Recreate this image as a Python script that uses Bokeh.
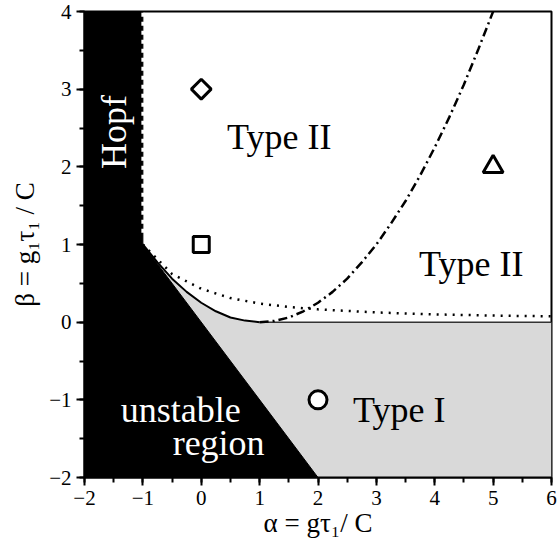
import numpy as np
from bokeh.plotting import figure
from bokeh.models import SingleIntervalTicker, ColumnDataSource
from bokeh.core.properties import value
from bokeh.embed import file_html
from bokeh.resources import INLINE

# --- boundaries of the (alpha, beta) phase diagram ---
hopf_alpha = -1.0                       # vertical Hopf boundary
hopf_beta_top = 4.0
unstable_alpha = [-1.0, 2.0]            # straight edge of the unstable region
unstable_beta = [1.0, -2.0]

# solid saddle-node boundary (left branch), touching beta = 0 at alpha = 1
sn_alpha = [-1.0, -0.75, -0.5, -0.25, 0.0, 0.25, 0.5, 0.75, 1.0]
sn_beta = [1.0, 0.77, 0.56, 0.39, 0.25, 0.14, 0.06, 0.02, 0.0]

# type I / type II separatrix along beta = 0
flat_alpha = [1.0, 6.0]
flat_beta = [0.0, 0.0]

# dotted curve
dot_alpha = [-1.0, -0.5, 0.0, 0.5, 1.0, 1.5, 2.0, 3.0, 4.0, 5.0, 6.0]
dot_beta = [1.0, 0.62, 0.43, 0.31, 0.24, 0.195, 0.165, 0.125, 0.10, 0.085, 0.075]

# dash-dot curve (right branch)
dd_alpha = [1.0, 1.25, 1.5, 1.75, 2.0, 2.25, 2.5, 2.75, 3.0, 3.25, 3.5,
            3.75, 4.0, 4.25, 4.5, 4.75, 5.0]
dd_beta = [0.0, 0.016, 0.06, 0.14, 0.25, 0.39, 0.56, 0.77, 1.0, 1.27, 1.56,
           1.89, 2.25, 2.64, 3.06, 3.52, 4.0]

# sample points
pt_alpha = {"diamond": 0.0, "square": 0.0, "triangle": 5.0, "circle": 2.0}
pt_beta = {"diamond": 3.0, "square": 1.0, "triangle": 2.0, "circle": -1.0}

x_lo, x_hi = -2.0, 6.0
y_lo, y_hi = -2.0, 4.0

SERIF = "Liberation Serif"

p = figure(width=557, height=548, x_range=(x_lo, x_hi), y_range=(y_lo, y_hi),
           output_backend="svg", toolbar_location=None,
           frame_width=467, frame_height=466,
           min_border_left=84, min_border_right=6,
           min_border_top=11, min_border_bottom=71)
p.xgrid.visible = False
p.ygrid.visible = False
p.background_fill_color = "white"
p.border_fill_color = "white"
p.outline_line_color = "black"
p.outline_line_width = 2
p.outline_line_alpha = 1.0

# gray region: between unstable edge, saddle-node curve and beta = 0
gray_x = ([unstable_alpha[1], x_hi, x_hi] + flat_alpha[::-1][:-1] + sn_alpha[::-1])
gray_y = ([unstable_beta[1], y_lo, flat_beta[1]] + flat_beta[::-1][:-1] + sn_beta[::-1])
p.patch(gray_x, gray_y, fill_color="#d9d9d9", line_color=None)

# black unstable region
black_x = [x_lo, unstable_alpha[1], unstable_alpha[0], hopf_alpha, x_lo]
black_y = [y_lo, unstable_beta[1], unstable_beta[0], hopf_beta_top, y_hi]
p.patch(black_x, black_y, fill_color="black", line_color="black", line_width=1)

# dashed Hopf edge
p.line([hopf_alpha, hopf_alpha], [unstable_beta[0] + 0.15, hopf_beta_top],
       line_color="white", line_width=3, line_dash="4 5")

# curves
p.line(sn_alpha, sn_beta, line_color="black", line_width=2)
p.line(flat_alpha, flat_beta, line_color="#333333", line_width=1.5)
p.line(dot_alpha, dot_beta, line_color="black", line_width=2.5, line_dash="2 6")
p.line(dd_alpha, dd_beta, line_color="black", line_width=2.5, line_dash="9 4 2 4")

# markers
p.scatter([pt_alpha["diamond"]], [pt_beta["diamond"]], marker="square", angle=np.pi / 4,
          size=14, fill_color="white", line_color="black", line_width=3)
p.scatter([pt_alpha["square"]], [pt_beta["square"]], marker="square",
          size=16, fill_color="white", line_color="black", line_width=3)
p.scatter([pt_alpha["triangle"]], [pt_beta["triangle"]], marker="triangle",
          size=20, fill_color="white", line_color="black", line_width=3)
p.scatter([pt_alpha["circle"]], [pt_beta["circle"]], marker="circle",
          size=18, fill_color="white", line_color="black", line_width=3)

# region labels
labels = ColumnDataSource(dict(
    x=[0.44, 3.73, 2.60, -1.38, -0.49],
    y=[2.39, 0.754, -1.125, -1.125, -1.55],
    text=["Type II", "Type II", "Type I", "unstable", "region"],
    color=["black", "black", "black", "white", "white"],
))
p.text("x", "y", text="text", source=labels, text_color="color",
       text_font=value(SERIF), text_font_size="36px",
       text_align="left", text_baseline="alphabetic")
p.text([-1.5], [2.45], text=["Hopf"], angle=np.pi / 2, text_color="white",
       text_font=value(SERIF), text_font_size="36px",
       text_align="center", text_baseline="middle")

# axes
for ax in (p.xaxis[0], p.yaxis[0]):
    ax.ticker = SingleIntervalTicker(interval=1, num_minor_ticks=2)
    ax.axis_line_width = 2
    ax.major_tick_line_width = 2
    ax.minor_tick_line_width = 2
    ax.major_tick_in = 0
    ax.major_tick_out = 8
    ax.minor_tick_in = 0
    ax.minor_tick_out = 5
    ax.major_label_text_font = SERIF
    ax.major_label_text_font_size = "21px"
    ax.major_label_text_color = "black"
    ax.axis_label_text_font = SERIF
    ax.axis_label_text_font_style = "normal"
    ax.axis_label_text_font_size = "27px"
    ax.axis_label_text_color = "black"
    ax.major_label_standoff = 5

p.xaxis.axis_label = "α = gτ₁/ C"
p.yaxis.axis_label = "β = g₁τ₁ / C"
p.xaxis.axis_label_standoff = 0
p.yaxis.axis_label_standoff = 6

open("out.html", "w").write(file_html(p, INLINE))
